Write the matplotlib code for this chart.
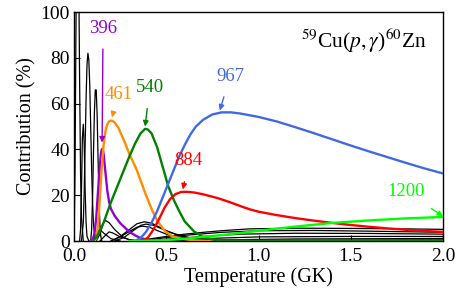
import matplotlib
matplotlib.use("Agg")
import matplotlib.pyplot as plt

plt.rcParams['font.family'] = ['Liberation Serif', 'DejaVu Serif']
plt.rcParams['mathtext.fontset'] = 'stix'

# ---- data ----
t_396 = [0.09, 0.10, 0.11, 0.12, 0.13, 0.14, 0.145, 0.15, 0.155, 0.16, 0.17, 0.18, 0.19, 0.20, 0.22, 0.25, 0.28, 0.30, 0.33, 0.36, 0.40, 0.45, 0.50]
v_396 = [0, 0.5, 3, 10, 22, 33, 38, 40, 40.3, 38, 30, 22, 17, 14, 11, 7.8, 5.5, 4, 2.5, 1.3, 0.5, 0.1, 0]

t_461 = [0.11, 0.12, 0.13, 0.14, 0.15, 0.16, 0.17, 0.18, 0.19, 0.20, 0.21, 0.22, 0.24, 0.27, 0.30, 0.34, 0.36, 0.39, 0.42, 0.45, 0.49, 0.53, 0.58, 0.65, 0.75]
v_461 = [0, 1, 7, 19, 32, 42, 48, 51, 52.3, 52.6, 52.4, 51.8, 49.5, 44, 38, 31, 26.5, 20, 14, 9, 4.5, 2.2, 1, 0.3, 0]

t_540 = [0.10, 0.12, 0.14, 0.16, 0.18, 0.20, 0.23, 0.26, 0.30, 0.33, 0.36, 0.385, 0.40, 0.42, 0.45, 0.48, 0.51, 0.54, 0.57, 0.60, 0.65, 0.70, 0.75, 0.80, 1.0, 2.0]
v_540 = [0, 1.5, 4.5, 8, 12.5, 17, 23, 29, 37, 42.5, 47, 49, 48.7, 47, 41, 32.5, 24, 18, 13, 8.5, 4.2, 1.7, 0.7, 0.3, 0.1, 0.05]

t_967 = [0.33, 0.36, 0.39, 0.42, 0.45, 0.48, 0.51, 0.54, 0.57, 0.60, 0.63, 0.66, 0.70, 0.75, 0.80, 0.85, 0.90, 1.0, 1.1, 1.2, 1.3, 1.4, 1.5, 1.6, 1.7, 1.8, 1.9, 2.0]
v_967 = [0, 1.3, 4, 8, 13, 19, 25, 31, 37, 42, 46.5, 50, 53, 55.3, 56.2, 56.2, 55.7, 54.2, 52.2, 49.7, 47.1, 44.4, 41.7, 39.1, 36.6, 34.1, 31.7, 29.5]

t_884 = [0.37, 0.40, 0.43, 0.46, 0.49, 0.52, 0.55, 0.58, 0.61, 0.65, 0.70, 0.78, 0.85, 0.90, 0.95, 1.0, 1.1, 1.2, 1.3, 1.4, 1.5, 1.6, 1.7, 1.8, 1.9, 2.0]
v_884 = [0, 1.5, 5, 9.5, 14.5, 18.3, 20.5, 21.4, 21.5, 21.2, 20.4, 18.7, 16.8, 15.3, 13.9, 12.8, 11.3, 10.0, 8.9, 7.9, 7.0, 6.2, 5.5, 4.9, 4.4, 4.0]

t_1200 = [0.30, 0.40, 0.50, 0.60, 0.70, 0.80, 0.90, 1.0, 1.2, 1.4, 1.6, 1.8, 2.0]
v_1200 = [0, 0.1, 0.4, 1, 1.8, 2.6, 3.5, 4.5, 6.3, 7.9, 9.0, 9.9, 10.5]

# other (black) resonances
black_t = [
    [0, 0.005, 0.01, 0.015, 0.02, 0.025, 0.03, 0.035, 0.04, 0.05],
    [0.03, 0.035, 0.04, 0.045, 0.05, 0.055, 0.06, 0.065, 0.07, 0.08],
    [0.04, 0.05, 0.055, 0.06, 0.065, 0.07, 0.075, 0.08, 0.085, 0.09, 0.095, 0.10, 0.105, 0.11, 0.12],
    [0.09, 0.095, 0.10, 0.105, 0.11, 0.115, 0.12, 0.125, 0.13, 0.135, 0.14, 0.145, 0.15],
    [0.12, 0.14, 0.16, 0.17, 0.19, 0.22, 0.26, 0.30, 0.35],
    [0.10, 0.12, 0.13, 0.14, 0.16, 0.20, 0.25],
    [0.14, 0.17, 0.19, 0.21, 0.25, 0.30, 0.35],
    [0.20, 0.25, 0.30, 0.34, 0.38, 0.42, 0.46, 0.50, 0.55, 0.60, 0.70, 0.80],
    [0.22, 0.27, 0.32, 0.36, 0.39, 0.43, 0.47, 0.52, 0.58, 0.65, 0.75, 0.85],
    [0.20, 0.25, 0.30, 0.34, 0.37, 0.41, 0.45, 0.50, 0.56, 0.65, 0.75],
    [0.30, 0.40, 0.50, 0.60, 0.70, 0.80, 0.95, 1.2, 1.5, 1.8, 2.0],
    [0.35, 0.45, 0.60, 0.80, 1.0, 1.3, 1.6, 2.0],
    [0.40, 0.50, 0.70, 0.90, 1.2, 1.6, 2.0],
    [0.45, 0.60, 0.80, 1.0, 1.5, 2.0],
    [0.50, 0.80, 1.2, 2.0],
    [0.60, 1.0, 2.0],
]
black_v = [
    [0, 30, 90, 140, 150, 120, 70, 30, 10, 0],
    [0, 5, 22, 45, 51, 42, 22, 8, 2, 0],
    [0, 8, 22, 42, 62, 77, 82, 79, 68, 50, 32, 17, 8, 3, 0],
    [0, 5, 18, 38, 56, 66, 66, 55, 36, 18, 7, 2, 0],
    [0, 3, 8, 9, 8, 5, 2, 0.5, 0],
    [0, 3, 4.5, 5, 3.5, 1, 0],
    [0, 2.5, 4, 3.5, 1.8, 0.6, 0],
    [0, 2, 5, 7.5, 8.4, 7.8, 6.2, 4.5, 3, 1.8, 0.6, 0.2],
    [0, 1.5, 4.5, 6.8, 7.4, 6.9, 5.5, 3.8, 2.2, 1.1, 0.4, 0.1],
    [0, 1.8, 4.2, 6, 6.5, 6, 4.6, 3, 1.7, 0.7, 0.2],
    [0, 0.8, 2, 3, 3.8, 4.5, 5.3, 5.6, 5.5, 5.3, 5.1],
    [0, 1, 2.5, 3.8, 4.5, 4.6, 4.3, 3.8],
    [0, 0.8, 2, 3, 3.4, 3.3, 3.0],
    [0, 0.6, 1.3, 1.8, 2.0, 2.0],
    [0, 0.5, 0.9, 1.1],
    [0, 0.3, 0.5],
]

labels = ['396', '461', '540', '884', '967', '1200']
colors = ['#9400D3', '#FF8C00', '#008000', '#FF0000', '#4169E1', '#00FF00']
# text position (T, %) and arrow tip (T, %)
label_xy = [(0.157, 93), (0.24, 64), (0.41, 67), (0.62, 35), (0.845, 72), (1.80, 21.5)]
arrow_tip = [(0.152, 43), (0.205, 54), (0.385, 50), (0.59, 22.5), (0.79, 57), (2.0, 10.8)]

fig = plt.figure(figsize=(4.63, 2.95), dpi=100)
ax = fig.add_axes([0.160, 0.183, 0.797, 0.776])

for tt, vv in zip(black_t, black_v):
    ax.plot(tt, vv, color='black', lw=0.9, zorder=2)

series = [(t_396, v_396), (t_461, v_461), (t_540, v_540), (t_884, v_884), (t_967, v_967), (t_1200, v_1200)]
for (tt, vv), c in zip(series, colors):
    ax.plot(tt, vv, color=c, lw=1.7, zorder=3)

for lab, c, (tx, ty), (ax_, ay_) in zip(labels, colors, label_xy, arrow_tip):
    ax.annotate(lab, xy=(ax_, ay_), xytext=(tx, ty), color=c, fontsize=13.5,
                ha='center', va='center',
                arrowprops=dict(arrowstyle='-|>', color=c, lw=1.0, mutation_scale=8,
                                shrinkA=7, shrinkB=0))

ax.text(0.955, 0.875, r'$^{59}$Cu($p,\gamma$)$^{60}$Zn', transform=ax.transAxes,
        ha='right', va='center', fontsize=15.5)

ax.set_xlim(0, 2.0)
ax.set_ylim(0, 100)
ax.set_xticks([0.0, 0.5, 1.0, 1.5, 2.0])
ax.set_xticklabels(['0.0', '0.5', '1.0', '1.5', '2.0'])
ax.set_yticks([0, 20, 40, 60, 80, 100])
ax.tick_params(direction='in', length=4, width=0.8, labelsize=14, pad=3)
ax.tick_params(axis='x', pad=5)
ax.set_xlabel('Temperature (GK)', fontsize=14.5, labelpad=2)
ax.set_ylabel('Contribution (%)', fontsize=14.5, labelpad=3)
for s in ax.spines.values():
    s.set_linewidth(1.0)

fig.savefig('out.png', dpi=100)
